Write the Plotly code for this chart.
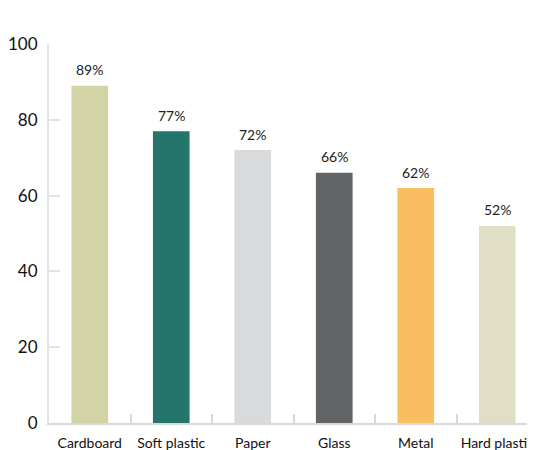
import plotly.graph_objects as go

categories = ["Cardboard", "Soft plastic", "Paper", "Glass", "Metal", "Hard plastic"]
values = [89, 77, 72, 66, 62, 52]
labels = ["89%", "77%", "72%", "66%", "62%", "52%"]
colors = ["#d3d4a6", "#24756b", "#d9dadb", "#636466", "#f9be5f", "#e0dfc6"]
y_ticks = [0, 20, 40, 60, 80, 100]

fig = go.Figure()
fig.add_trace(go.Bar(x=categories, y=values, marker=dict(color=colors, line=dict(width=0)),
                     width=0.45, hoverinfo="skip"))

for c, v, t in zip(categories, values, labels):
    fig.add_annotation(x=c, y=v, text=t, showarrow=False, yshift=16,
                       font=dict(family="Lato, Open Sans, sans-serif", size=14, color="#222"))

# page body has an 8px default margin, so the figure is sized to fit the 535x450 window
fig.update_layout(
    width=527, height=442,
    margin=dict(l=41, r=0, t=36, b=27, autoexpand=False),
    plot_bgcolor="white", paper_bgcolor="white",
    showlegend=False,
    font=dict(family="Lato, Open Sans, sans-serif", color="#111"),
)
fig.update_xaxes(
    type="category", range=[-0.5, 5.463], automargin=False,
    showline=True, linecolor="#d9d9d9", linewidth=2,
    ticks="inside", tickson="boundaries", ticklen=9, tickcolor="#d9d9d9", tickwidth=2,
    tickfont=dict(size=14, color="#111"), showgrid=False, zeroline=False,
    ticklabelstandoff=6,
)
fig.update_yaxes(
    range=[0, 100], tickvals=y_ticks, automargin=False,
    showline=True, linecolor="#e3e3e3", linewidth=2,
    ticks="inside", ticklen=11, tickcolor="#e3e3e3", tickwidth=2,
    tickfont=dict(size=17, color="#111"), showgrid=False, zeroline=False,
    ticklabelstandoff=6,
)

fig.write_html("out.html")
